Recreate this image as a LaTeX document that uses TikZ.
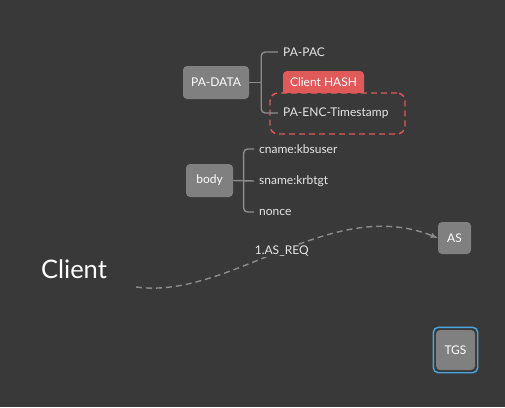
\documentclass[tikz,border=0pt]{standalone}
\usepackage{fontspec}
\setmainfont{Lato}
\usetikzlibrary{positioning}
\usetikzlibrary{shapes,arrows,fit,calc}
\definecolor{bg}{HTML}{393939}
\definecolor{boxgray}{HTML}{808080}
\definecolor{linegray}{HTML}{8C8C8C}
\definecolor{txt}{HTML}{E6E6E6}
\definecolor{hashred}{HTML}{E15A5A}
\definecolor{tgsblue}{HTML}{4BA6E0}
\tikzstyle{field} = [rectangle, fill=boxgray, text=white, rounded corners=4pt, inner sep=0pt, text centered]
\tikzstyle{leaf} = [anchor=west, text=txt, inner xsep=5pt, inner ysep=0pt]
\tikzstyle{branch} = [draw=linegray, line width=1.4pt, rounded corners=4pt]
\tikzstyle{arrow} = [draw=linegray, line width=1.4pt, dash pattern=on 6pt off 4pt, -latex]

\begin{document}
\begin{tikzpicture}[x=1pt, y=-1pt]
\fontsize{12}{14}\selectfont
\useasboundingbox[fill=bg] (0,0) rectangle (505,407);

\node (padata) [field, minimum width=66pt, minimum height=33pt] at (216,82.5) {PA-DATA};
\node (papac) [leaf] at (278,52) {PA-PAC};
\node (pats) [leaf] at (278,113) {PA-ENC-Timestamp};
\node (encbox) [draw=hashred, dash pattern=on 6pt off 4pt, line width=1.4pt, rounded corners=8pt, minimum width=135pt, minimum height=41pt] at (337.5,113.5) {};
\fill[hashred] (283,93) [rounded corners=4pt] -- (283,71) -- (364,71) [sharp corners] -- (364,93) -- cycle;
\node (hash) [text=white] at (323.5,82.5) {Client HASH};

\node (body) [field, minimum width=47pt, minimum height=33pt] at (209.5,180.5) {body};
\node (cname) [leaf] at (254,149) {cname:kbsuser};
\node (sname) [leaf] at (254,181) {sname:krbtgt};
\node (nonce) [leaf] at (254,212) {nonce};

\node (as) [field, minimum width=33pt, minimum height=32pt] at (454.5,238) {AS};
\node (tgs) [field, minimum width=39pt, minimum height=40pt] at (455.5,350) {TGS};
\node (tgsring) [draw=tgsblue, line width=1.4pt, rounded corners=5pt, fit=(tgs), inner sep=2.5pt] {};

\node (client) [text=white, font=\fontsize{25.5}{30}\selectfont] at (74,269) {Client};
\coordinate (start) at (136,287);

\draw [branch] (padata.east) -- ++(12,0) coordinate (j1);
\draw [branch] (j1) |- (papac.west);
\draw [branch] (j1) |- (pats.west);
\draw [branch] (body.east) -- (sname.west);
\draw [branch] ($(body.east)!0.5!(sname.west)$) |- (cname.west);
\draw [branch] ($(body.east)!0.5!(sname.west)$) |- (nonce.west);

\draw [arrow] (start) .. controls (230,300) and (330,195) .. (as.west)
  node[pos=0.5, fill=bg, text=txt, inner sep=1pt] {1.AS\_REQ};

\end{tikzpicture}
\end{document}
